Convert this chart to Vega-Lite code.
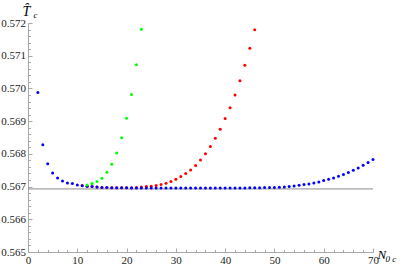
{
  "$schema": "https://vega.github.io/schema/vega-lite/v6.json",
  "width": 345,
  "height": 229,
  "autosize": "none",
  "padding": {"left": 28, "top": 23, "right": 30, "bottom": 16},
  "background": "white",
  "config": {
    "view": {"stroke": null},
    "axis": {
      "grid": false,
      "domainColor": "#a8a8a8",
      "tickColor": "#a8a8a8",
      "labelFont": "Liberation Serif",
      "labelFontSize": 11,
      "labelColor": "#222222",
      "labelOverlap": false,
      "labelFlush": false,
      "titleFont": "Liberation Serif",
      "titleFontStyle": "italic",
      "titleFontWeight": "normal",
      "titleColor": "#000000"
    }
  },
  "datasets": {
    "pts": [
      {"N": 11, "T": 0.567035, "s": "red"},
      {"N": 12, "T": 0.567011, "s": "red"},
      {"N": 13, "T": 0.567002, "s": "red"},
      {"N": 14, "T": 0.56699, "s": "red"},
      {"N": 15, "T": 0.566975, "s": "red"},
      {"N": 16, "T": 0.56697, "s": "red"},
      {"N": 17, "T": 0.566967, "s": "red"},
      {"N": 18, "T": 0.566965, "s": "red"},
      {"N": 19, "T": 0.566963, "s": "red"},
      {"N": 20, "T": 0.566962, "s": "red"},
      {"N": 21, "T": 0.566965, "s": "red"},
      {"N": 22, "T": 0.566975, "s": "red"},
      {"N": 23, "T": 0.56699, "s": "red"},
      {"N": 24, "T": 0.567002, "s": "red"},
      {"N": 25, "T": 0.567011, "s": "red"},
      {"N": 26, "T": 0.567032, "s": "red"},
      {"N": 27, "T": 0.567063, "s": "red"},
      {"N": 28, "T": 0.567103, "s": "red"},
      {"N": 29, "T": 0.567155, "s": "red"},
      {"N": 30, "T": 0.567225, "s": "red"},
      {"N": 31, "T": 0.567308, "s": "red"},
      {"N": 32, "T": 0.5674, "s": "red"},
      {"N": 33, "T": 0.56751, "s": "red"},
      {"N": 34, "T": 0.567645, "s": "red"},
      {"N": 35, "T": 0.567816, "s": "red"},
      {"N": 36, "T": 0.568, "s": "red"},
      {"N": 37, "T": 0.568226, "s": "red"},
      {"N": 38, "T": 0.568474, "s": "red"},
      {"N": 39, "T": 0.568756, "s": "red"},
      {"N": 40, "T": 0.569077, "s": "red"},
      {"N": 41, "T": 0.569408, "s": "red"},
      {"N": 42, "T": 0.569802, "s": "red"},
      {"N": 43, "T": 0.570231, "s": "red"},
      {"N": 44, "T": 0.570705, "s": "red"},
      {"N": 45, "T": 0.571226, "s": "red"},
      {"N": 46, "T": 0.571795, "s": "red"},
      {"N": 2, "T": 0.569879, "s": "blue"},
      {"N": 3, "T": 0.568275, "s": "blue"},
      {"N": 4, "T": 0.567694, "s": "blue"},
      {"N": 5, "T": 0.567418, "s": "blue"},
      {"N": 6, "T": 0.567265, "s": "blue"},
      {"N": 7, "T": 0.567173, "s": "blue"},
      {"N": 8, "T": 0.567112, "s": "blue"},
      {"N": 9, "T": 0.567092, "s": "blue"},
      {"N": 10, "T": 0.567051, "s": "blue"},
      {"N": 11, "T": 0.567022, "s": "blue"},
      {"N": 12, "T": 0.567011, "s": "blue"},
      {"N": 13, "T": 0.567002, "s": "blue"},
      {"N": 14, "T": 0.56699, "s": "blue"},
      {"N": 15, "T": 0.566975, "s": "blue"},
      {"N": 16, "T": 0.56697, "s": "blue"},
      {"N": 17, "T": 0.566967, "s": "blue"},
      {"N": 18, "T": 0.566965, "s": "blue"},
      {"N": 19, "T": 0.566963, "s": "blue"},
      {"N": 20, "T": 0.566962, "s": "blue"},
      {"N": 21, "T": 0.56696, "s": "blue"},
      {"N": 22, "T": 0.56696, "s": "blue"},
      {"N": 23, "T": 0.56696, "s": "blue"},
      {"N": 24, "T": 0.56696, "s": "blue"},
      {"N": 25, "T": 0.56696, "s": "blue"},
      {"N": 26, "T": 0.56696, "s": "blue"},
      {"N": 27, "T": 0.56696, "s": "blue"},
      {"N": 28, "T": 0.56696, "s": "blue"},
      {"N": 29, "T": 0.56696, "s": "blue"},
      {"N": 30, "T": 0.56696, "s": "blue"},
      {"N": 31, "T": 0.56696, "s": "blue"},
      {"N": 32, "T": 0.56696, "s": "blue"},
      {"N": 33, "T": 0.56696, "s": "blue"},
      {"N": 34, "T": 0.56696, "s": "blue"},
      {"N": 35, "T": 0.56696, "s": "blue"},
      {"N": 36, "T": 0.56696, "s": "blue"},
      {"N": 37, "T": 0.56696, "s": "blue"},
      {"N": 38, "T": 0.56696, "s": "blue"},
      {"N": 39, "T": 0.56696, "s": "blue"},
      {"N": 40, "T": 0.56696, "s": "blue"},
      {"N": 41, "T": 0.56696, "s": "blue"},
      {"N": 42, "T": 0.56696, "s": "blue"},
      {"N": 43, "T": 0.56696, "s": "blue"},
      {"N": 44, "T": 0.56696, "s": "blue"},
      {"N": 45, "T": 0.566961, "s": "blue"},
      {"N": 46, "T": 0.566963, "s": "blue"},
      {"N": 47, "T": 0.566965, "s": "blue"},
      {"N": 48, "T": 0.566968, "s": "blue"},
      {"N": 49, "T": 0.566971, "s": "blue"},
      {"N": 50, "T": 0.566974, "s": "blue"},
      {"N": 51, "T": 0.56698, "s": "blue"},
      {"N": 52, "T": 0.56699, "s": "blue"},
      {"N": 53, "T": 0.567002, "s": "blue"},
      {"N": 54, "T": 0.56702, "s": "blue"},
      {"N": 55, "T": 0.567042, "s": "blue"},
      {"N": 56, "T": 0.567063, "s": "blue"},
      {"N": 57, "T": 0.567081, "s": "blue"},
      {"N": 58, "T": 0.567112, "s": "blue"},
      {"N": 59, "T": 0.567143, "s": "blue"},
      {"N": 60, "T": 0.567185, "s": "blue"},
      {"N": 61, "T": 0.567225, "s": "blue"},
      {"N": 62, "T": 0.567265, "s": "blue"},
      {"N": 63, "T": 0.567317, "s": "blue"},
      {"N": 64, "T": 0.567369, "s": "blue"},
      {"N": 65, "T": 0.56743, "s": "blue"},
      {"N": 66, "T": 0.567501, "s": "blue"},
      {"N": 67, "T": 0.567571, "s": "blue"},
      {"N": 68, "T": 0.567654, "s": "blue"},
      {"N": 69, "T": 0.567736, "s": "blue"},
      {"N": 70, "T": 0.567828, "s": "blue"},
      {"N": 12, "T": 0.567051, "s": "green"},
      {"N": 13, "T": 0.567094, "s": "green"},
      {"N": 14, "T": 0.567155, "s": "green"},
      {"N": 15, "T": 0.567256, "s": "green"},
      {"N": 16, "T": 0.567439, "s": "green"},
      {"N": 17, "T": 0.567684, "s": "green"},
      {"N": 18, "T": 0.56803, "s": "green"},
      {"N": 19, "T": 0.568489, "s": "green"},
      {"N": 20, "T": 0.569085, "s": "green"},
      {"N": 21, "T": 0.569818, "s": "green"},
      {"N": 22, "T": 0.570724, "s": "green"},
      {"N": 23, "T": 0.571807, "s": "green"}
    ],
    "ref": [{"T": 0.566928}]
  },
  "resolve": {"axis": {"x": "independent", "y": "independent"}},
  "layer": [
    {
      "data": {"name": "pts"},
      "mark": {"type": "point", "opacity": 0},
      "encoding": {
        "x": {
          "field": "N", "type": "quantitative",
          "scale": {"domain": [0, 70], "nice": false, "zero": false},
          "axis": {
            "orient": "bottom",
            "values": [0,2,4,6,8,10,12,14,16,18,20,22,24,26,28,30,32,34,36,38,40,42,44,46,48,50,52,54,56,58,60,62,64,66,68,70],
            "labels": false, "domain": false, "tickSize": -2.5,
            "title": "0 c", "titleFontSize": 9, "titleAlign": "left", "titleBaseline": "alphabetic",
            "titleX": 357, "titleY": 9, "titleAngle": 0
          }
        },
        "y": {
          "field": "T", "type": "quantitative",
          "scale": {"domain": [0.565, 0.572], "nice": false, "zero": false},
          "axis": {
            "orient": "left",
            "values": [0.565,0.5652,0.5654,0.5656,0.5658,0.566,0.5662,0.5664,0.5666,0.5668,0.567,0.5672,0.5674,0.5676,0.5678,0.568,0.5682,0.5684,0.5686,0.5688,0.569,0.5692,0.5694,0.5696,0.5698,0.57,0.5702,0.5704,0.5706,0.5708,0.571,0.5712,0.5714,0.5716,0.5718,0.572],
            "labels": false, "domain": false, "tickSize": -2.5,
            "title": "c", "titleFontSize": 9, "titleAlign": "left", "titleBaseline": "alphabetic",
            "titleX": 5, "titleY": -6, "titleAngle": 0
          }
        }
      }
    },
    {
      "data": {"name": "ref"},
      "mark": {"type": "rule", "color": "#8c8c8c", "strokeWidth": 1},
      "encoding": {
        "y": {"field": "T", "type": "quantitative", "axis": null}
      }
    },
    {
      "data": {"name": "pts"},
      "mark": {"type": "point", "filled": true, "shape": "circle", "size": 9, "opacity": 1},
      "encoding": {
        "x": {
          "field": "N", "type": "quantitative",
          "axis": {
            "orient": "bottom",
            "values": [0, 10, 20, 30, 40, 50, 60, 70], "format": "d",
            "tickSize": -4, "labelPadding": 6.5,
            "title": "N", "titleFontSize": 13, "titleAlign": "left", "titleBaseline": "alphabetic",
            "titleX": 349, "titleY": 6, "titleAngle": 0
          }
        },
        "y": {
          "field": "T", "type": "quantitative",
          "axis": {
            "orient": "left",
            "values": [0.565, 0.566, 0.567, 0.568, 0.569, 0.57, 0.571, 0.572], "format": ".3f",
            "tickSize": -4, "labelPadding": 6.5,
            "title": "T̂", "titleFontSize": 14, "titleAlign": "center", "titleBaseline": "alphabetic",
            "titleX": -2, "titleY": -8, "titleAngle": 0
          }
        },
        "color": {
          "field": "s", "type": "nominal",
          "scale": {"domain": ["blue", "red", "green"], "range": ["#0000ff", "#ff0000", "#00ff00"]},
          "legend": null
        }
      }
    }
  ]
}
